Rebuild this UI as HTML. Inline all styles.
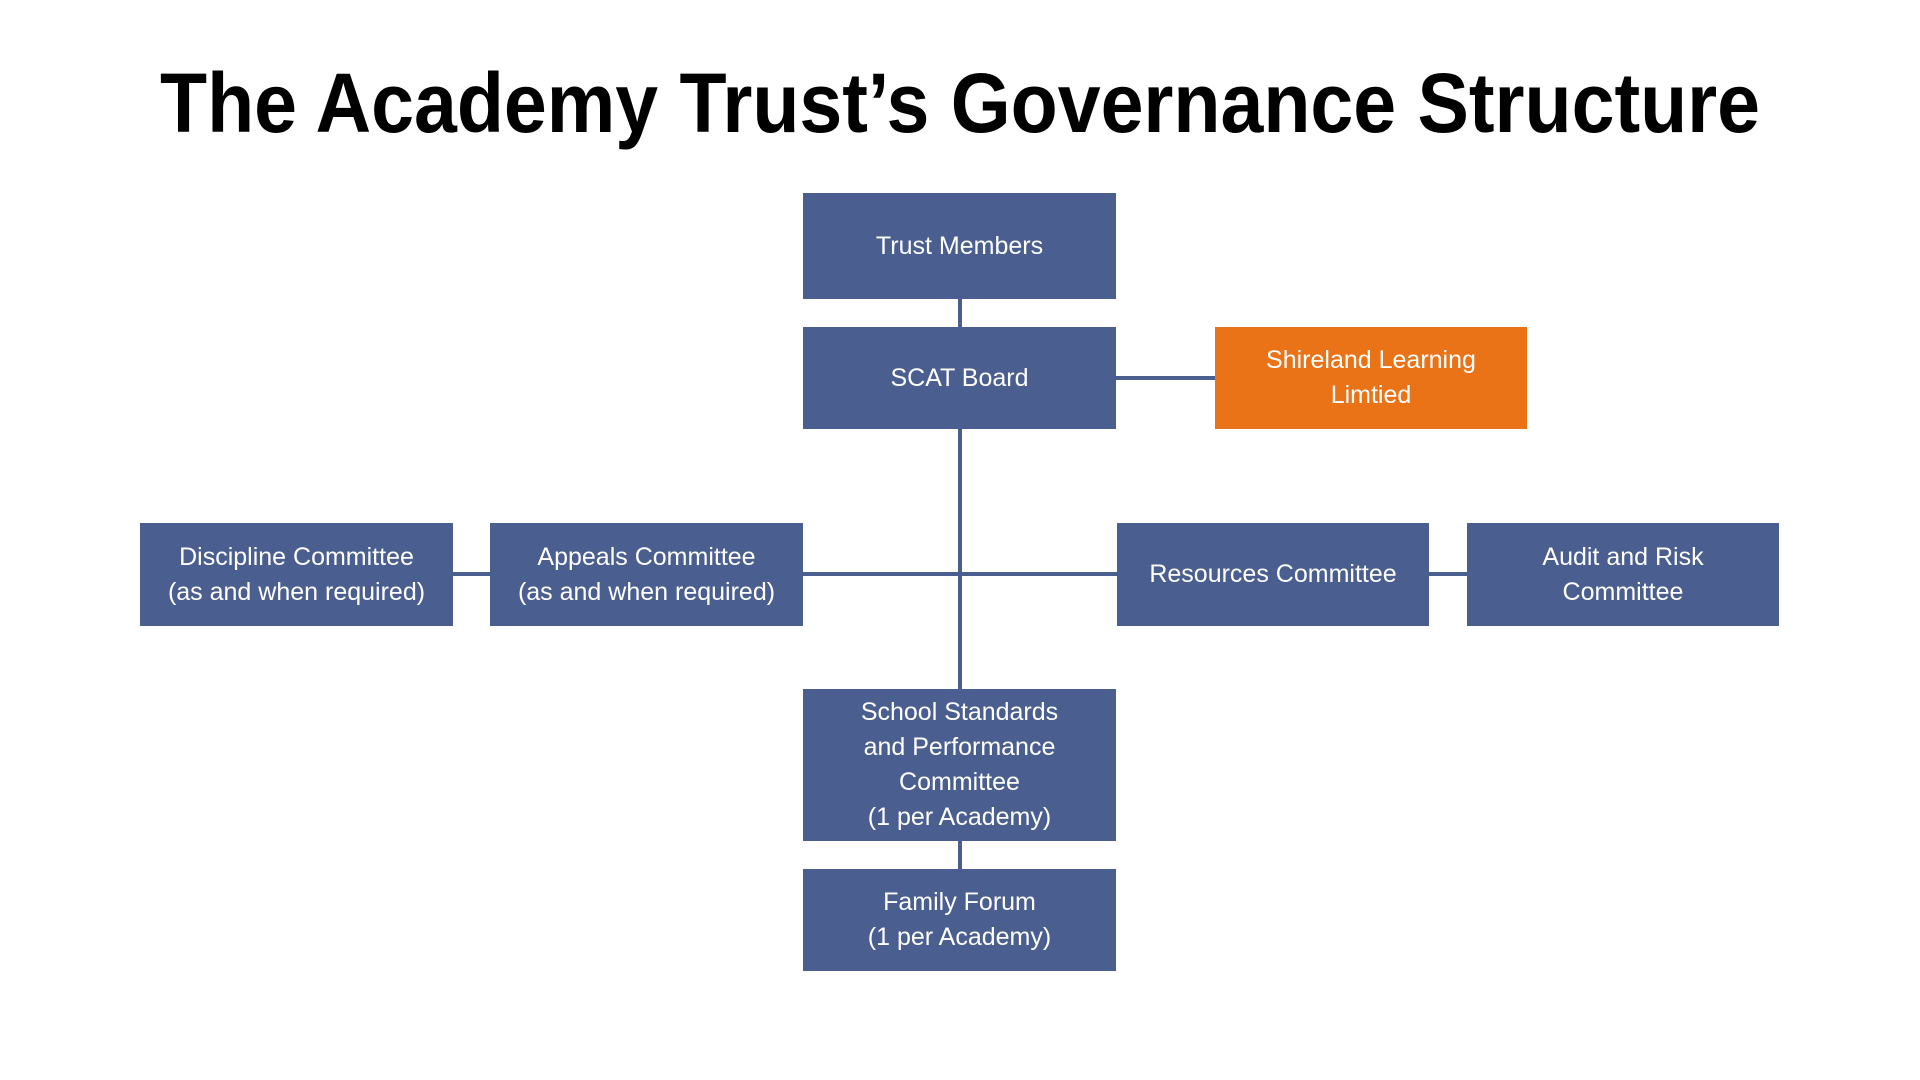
<!DOCTYPE html>
<html><head><meta charset="utf-8"><style>
html,body{margin:0;padding:0;background:#fff;}
body{width:1920px;height:1080px;position:relative;overflow:hidden;font-family:"Liberation Sans",sans-serif;}
.b{position:absolute;background:#4A5F8F;color:#fff;display:flex;align-items:center;justify-content:center;text-align:center;font-size:25px;line-height:35px;}
.o{background:#E97316;}
.l{position:absolute;background:#4A5F8F;}
</style></head><body>
<svg width="1920" height="150" style="position:absolute;left:0;top:0">
<text x="960" y="132" text-anchor="middle" font-family="Liberation Sans" font-weight="bold" font-size="84" textLength="1600" lengthAdjust="spacingAndGlyphs" fill="#000">The Academy Trust’s Governance Structure</text>
</svg>
<div class="l" style="left:958px;top:299px;width:4px;height:28px"></div>
<div class="l" style="left:958px;top:429px;width:4px;height:260px"></div>
<div class="l" style="left:958px;top:841px;width:4px;height:28px"></div>
<div class="l" style="left:1116px;top:376px;width:99px;height:4px"></div>
<div class="l" style="left:453px;top:572px;width:1014px;height:4px"></div>
<div class="b" style="left:803px;top:193px;width:313px;height:106px">Trust Members</div>
<div class="b" style="left:803px;top:327px;width:313px;height:102px">SCAT Board</div>
<div class="b o" style="left:1215px;top:327px;width:312px;height:102px">Shireland Learning<br>Limtied</div>
<div class="b" style="left:140px;top:523px;width:313px;height:103px">Discipline Committee<br>(as and when required)</div>
<div class="b" style="left:490px;top:523px;width:313px;height:103px">Appeals Committee<br>(as and when required)</div>
<div class="b" style="left:1117px;top:523px;width:312px;height:103px">Resources Committee</div>
<div class="b" style="left:1467px;top:523px;width:312px;height:103px">Audit and Risk<br>Committee</div>
<div class="b" style="left:803px;top:689px;width:313px;height:152px">School Standards<br>and Performance<br>Committee<br>(1 per Academy)</div>
<div class="b" style="left:803px;top:869px;width:313px;height:102px">Family Forum<br>(1 per Academy)</div>
</body></html>
